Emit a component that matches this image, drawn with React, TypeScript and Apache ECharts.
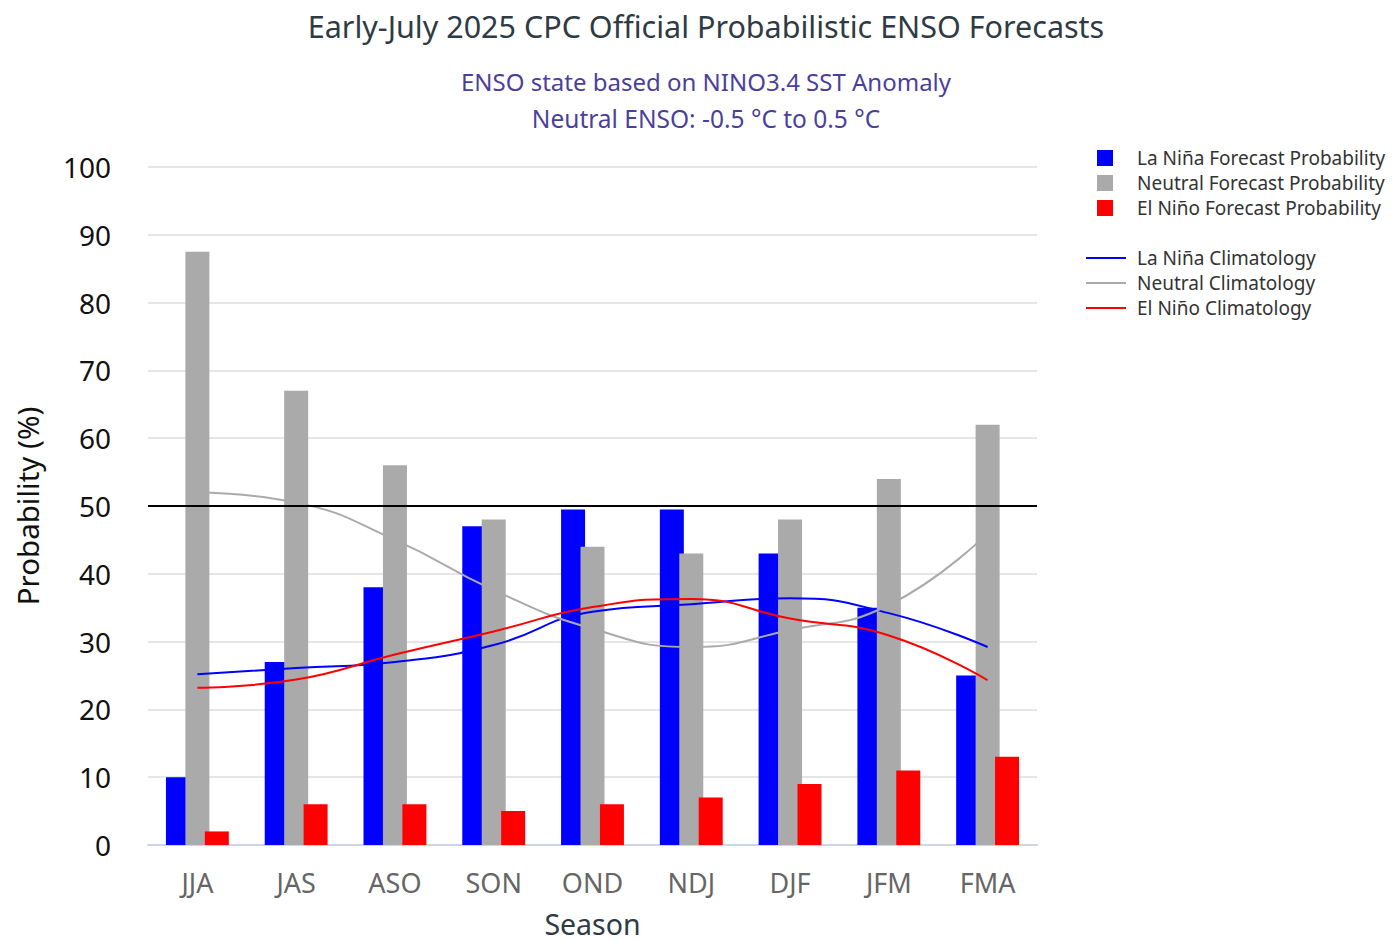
import React, { useEffect, useRef } from "react";
import * as echarts from "echarts";

const categories = ["JJA", "JAS", "ASO", "SON", "OND", "NDJ", "DJF", "JFM", "FMA"];
const laNinaProb = [10, 27, 38, 47, 49.5, 49.5, 43, 35, 25];
const neutralProb = [87.5, 67, 56, 48, 44, 43, 48, 54, 62];
const elNinoProb = [2, 6, 6, 5, 6, 7, 9, 11, 13];
const laNinaClim = [25.2, 26.1, 27, 29.5, 34.4, 35.5, 36.4, 34.2, 29.2];
const neutralClim = [52, 50.5, 45, 37.6, 31.9, 29.2, 31.7, 35.4, 46];
const elNinoClim = [23.2, 24.4, 28.1, 31.5, 35.1, 36.3, 33.4, 30.9, 24.3];
const yTicks = { min: 0, max: 100, interval: 10 };
const threshold = 50;

const FONT = "'Noto Sans', sans-serif";

export default function App() {
  const ref = useRef<HTMLDivElement>(null);
  useEffect(() => {
    document.body.style.margin = "0";
    const chart = echarts.init(ref.current!, null, { renderer: "svg" });
    const barCommon = { type: "bar", barWidth: 24, barGap: "-19%" };
    chart.setOption({
      animation: false,
      textStyle: { fontFamily: FONT },
      graphic: [
        { type: "text", x: 706, y: 26, style: { text: "Early-July 2025 CPC Official Probabilistic ENSO Forecasts", font: `30.5px ${FONT}`, fill: "#2f3b44", textAlign: "center", textVerticalAlign: "middle" } },
        { type: "text", x: 706, y: 81, style: { text: "ENSO state based on NINO3.4 SST Anomaly", font: `24px ${FONT}`, fill: "#4b3f9c", textAlign: "center", textVerticalAlign: "middle" } },
        { type: "text", x: 706, y: 118, style: { text: "Neutral ENSO: -0.5 °C to 0.5 °C", font: `24.5px ${FONT}`, fill: "#4b3f9c", textAlign: "center", textVerticalAlign: "middle" } },
      ],
      legend: [
        {
          data: ["La Niña Forecast Probability", "Neutral Forecast Probability", "El Niño Forecast Probability"],
          orient: "vertical", left: 1092, top: 143, icon: "rect", itemWidth: 16, itemHeight: 16, itemGap: 5,
          textStyle: { fontSize: 19, color: "#333", lineHeight: 20, padding: [0, 0, 0, 19], fontFamily: FONT },
        },
        {
          data: ["La Niña Climatology", "Neutral Climatology", "El Niño Climatology"],
          orient: "vertical", left: 1081, top: 243, icon: "rect", itemWidth: 40, itemHeight: 2, itemGap: 5,
          textStyle: { fontSize: 19, color: "#333", lineHeight: 20, padding: [0, 0, 0, 6], fontFamily: FONT },
        },
      ],
      grid: { left: 148, right: 356, top: 167, bottom: 96, outerBoundsMode: "none", containLabel: false },
      xAxis: {
        type: "category", data: categories, name: "Season", nameLocation: "middle", nameGap: 64,
        nameTextStyle: { fontSize: 28.5, color: "#2f3b44" },
        axisLine: { lineStyle: { color: "#ccd6eb", width: 2 } }, axisTick: { show: false },
        axisLabel: { fontSize: 27, color: "#666", margin: 24 },
      },
      yAxis: {
        type: "value", ...yTicks, name: "Probability (%)", nameLocation: "middle", nameGap: 106,
        nameTextStyle: { fontSize: 29.5, color: "#111" },
        axisLabel: { fontSize: 28, color: "#111", margin: 37 },
        splitLine: { lineStyle: { color: "#e6e6e6", width: 2 } },
        axisLine: { show: false }, axisTick: { show: false },
      },
      series: [
        { ...barCommon, name: "La Niña Forecast Probability", data: laNinaProb, itemStyle: { color: "#0000ff" },
          markLine: { silent: true, symbol: "none", label: { show: false }, lineStyle: { color: "#000", width: 2, type: "solid" }, data: [{ yAxis: threshold }] } },
        { ...barCommon, name: "Neutral Forecast Probability", data: neutralProb, itemStyle: { color: "#aaaaaa" } },
        { ...barCommon, name: "El Niño Forecast Probability", data: elNinoProb, itemStyle: { color: "#ff0000" } },
        { type: "line", name: "La Niña Climatology", data: laNinaClim, smooth: true, symbol: "none", color: "#0000ff", lineStyle: { width: 2, color: "#0000ff" } },
        { type: "line", name: "Neutral Climatology", data: neutralClim, smooth: true, symbol: "none", color: "#aaaaaa", lineStyle: { width: 2, color: "#aaaaaa" } },
        { type: "line", name: "El Niño Climatology", data: elNinoClim, smooth: true, symbol: "none", color: "#ff0000", lineStyle: { width: 2, color: "#ff0000" } },
      ],
    });
    return () => chart.dispose();
  }, []);
  return <div ref={ref} style={{ width: 1393, height: 941 }} />;
}
